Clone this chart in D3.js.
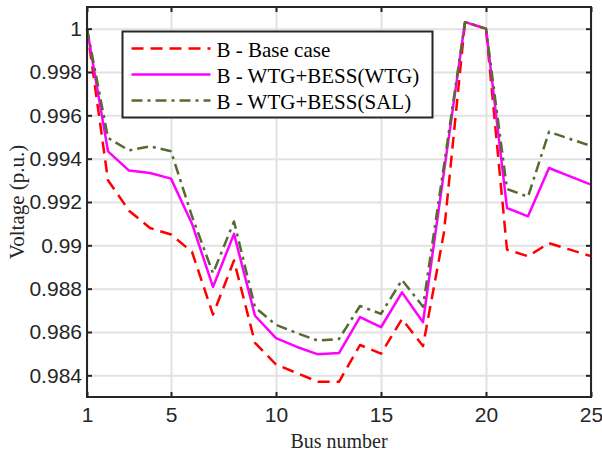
<!DOCTYPE html>
<html lang="en">
<head>
    <meta charset="UTF-8">
    <title>Bus voltage</title>
    <script src="https://cdn.jsdelivr.net/npm/d3@7"></script>
    <style>
        body{margin:0;background:#fff;}
        svg{font-family:"Liberation Serif","Times New Roman",serif;}
        .grid line{stroke:#e2e2e2;stroke-width:2;}
        .grid .domain{display:none;}
        .axis .domain{display:none;}
        .axis line{stroke:#262626;stroke-width:2;}
        .axis text{fill:#262626;font-size:21px;}
    </style>
</head>
<body>
<svg width="602" height="455"></svg>
<script>
    // data
    var buses = d3.range(1, 26);
    var baseCase = [1.0000, 0.9930, 0.9916, 0.9908, 0.9905, 0.9897, 0.9868, 0.9893, 0.9855, 0.9845,
                    0.9841, 0.9837, 0.9837, 0.9854, 0.9850, 0.9866, 0.98535, 0.9906, 1.0003, 1.0000,
                    0.9898, 0.9895, 0.9901, 0.9898, 0.9895];
    var wtgBessWtg = [1.0000, 0.99434, 0.99345, 0.99334, 0.99308, 0.9910, 0.98808, 0.99053, 0.98675, 0.98572,
                      0.98531, 0.98497, 0.98503, 0.98669, 0.98622, 0.98783, 0.98645, 0.9934, 1.0003, 1.0000,
                      0.99172, 0.99134, 0.99357, 0.99318, 0.9928];
    var wtgBessSal = [1.0000, 0.99496, 0.99438, 0.99457, 0.99434, 0.99134, 0.98871, 0.9911, 0.98714, 0.98633,
                      0.98595, 0.9856, 0.98568, 0.9872, 0.98684, 0.9884, 0.98717, 0.9937, 1.0003, 1.0000,
                      0.9926, 0.99224, 0.99524, 0.99491, 0.99459];
    var xTicks = [1, 5, 10, 15, 20, 25];
    var yTicks = [0.984, 0.986, 0.988, 0.99, 0.992, 0.994, 0.996, 0.998, 1];
    var yTickLabels = ['0.984', '0.986', '0.988', '0.99', '0.992', '0.994', '0.996', '0.998', '1'];
    var seriesNames = ['B - Base case', 'B - WTG+BESS(WTG)', 'B - WTG+BESS(SAL)'];

    var svg = d3.select('svg'),
        margin = {top:7, right:11, bottom:58, left:87},
        width = +svg.attr('width') - margin.left - margin.right,
        height = +svg.attr('height') - margin.top - margin.bottom,
        g = svg.append('g').attr('transform', 'translate(' + margin.left + ',' + margin.top + ')');

    var x = d3.scaleLinear().domain([1, 25]).range([0, width]);
    var y = d3.scaleLinear().domain([0.983, 1.001]).range([height, 0]);

    var series = [
        {name: seriesNames[0], values: baseCase, color: '#ff0000', dash: '12,7'},
        {name: seriesNames[1], values: wtgBessWtg, color: '#ff00ff', dash: null},
        {name: seriesNames[2], values: wtgBessSal, color: '#556b2f', dash: '11,5,3,5'}
    ];

    // grid
    g.append('g').attr('class', 'grid')
        .call(d3.axisBottom(x).tickValues(xTicks).tickSize(height).tickFormat(''));
    g.append('g').attr('class', 'grid')
        .call(d3.axisLeft(y).tickValues(yTicks).tickSize(-width).tickFormat(''));

    // lines
    var line = d3.line()
        .x(function(d, i){ return x(buses[i]); })
        .y(function(d){ return y(d); });

    g.append('g').selectAll('path')
        .data(series)
        .enter().append('path')
        .attr('d', function(d){ return line(d.values); })
        .attr('fill', 'none')
        .attr('stroke', function(d){ return d.color; })
        .attr('stroke-width', 2.5)
        .attr('stroke-dasharray', function(d){ return d.dash; })
        .attr('stroke-linejoin', 'round');

    // axes, ticks pointing inward on all four sides
    g.append('g').attr('class', 'axis')
        .attr('transform', 'translate(0,' + height + ')')
        .call(d3.axisBottom(x).tickValues(xTicks).tickSizeInner(-5).tickSizeOuter(0).tickPadding(10));
    g.append('g').attr('class', 'axis')
        .call(d3.axisTop(x).tickValues(xTicks).tickSizeInner(-5).tickSizeOuter(0).tickFormat(''));
    g.append('g').attr('class', 'axis')
        .call(d3.axisLeft(y).tickValues(yTicks).tickSizeInner(-5).tickSizeOuter(0).tickPadding(5)
            .tickFormat(function(d, i){ return yTickLabels[i]; }));
    g.append('g').attr('class', 'axis')
        .attr('transform', 'translate(' + width + ',0)')
        .call(d3.axisRight(y).tickValues(yTicks).tickSizeInner(-5).tickSizeOuter(0).tickFormat(''));

    g.append('rect')
        .attr('width', width)
        .attr('height', height)
        .attr('fill', 'none')
        .attr('stroke', '#262626')
        .attr('stroke-width', 2);

    // axis titles
    svg.append('text')
        .attr('x', margin.left + width / 2)
        .attr('y', 448)
        .attr('text-anchor', 'middle')
        .attr('font-size', 20)
        .attr('fill', '#262626')
        .text('Bus number');
    svg.append('text')
        .attr('transform', 'translate(24,' + (margin.top + height / 2) + ') rotate(-90)')
        .attr('text-anchor', 'middle')
        .attr('font-size', 21)
        .attr('fill', '#262626')
        .text('Voltage (p.u.)');

    // legend
    var legend = svg.append('g').attr('transform', 'translate(122.5,31.5)');
    legend.append('rect')
        .attr('width', 310)
        .attr('height', 86)
        .attr('fill', '#fff')
        .attr('stroke', '#262626')
        .attr('stroke-width', 2);
    var item = legend.selectAll('g')
        .data(series)
        .enter().append('g')
        .attr('transform', function(d, i){ return 'translate(0,' + (17 + i * 26) + ')'; });
    item.append('line')
        .attr('x1', 9)
        .attr('x2', 88)
        .attr('stroke', function(d){ return d.color; })
        .attr('stroke-width', 2.5)
        .attr('stroke-dasharray', function(d){ return d.dash; });
    item.append('text')
        .attr('x', 94)
        .attr('y', 8)
        .attr('font-size', 21)
        .attr('fill', '#000')
        .text(function(d){ return d.name; });
</script>
</body>
</html>
